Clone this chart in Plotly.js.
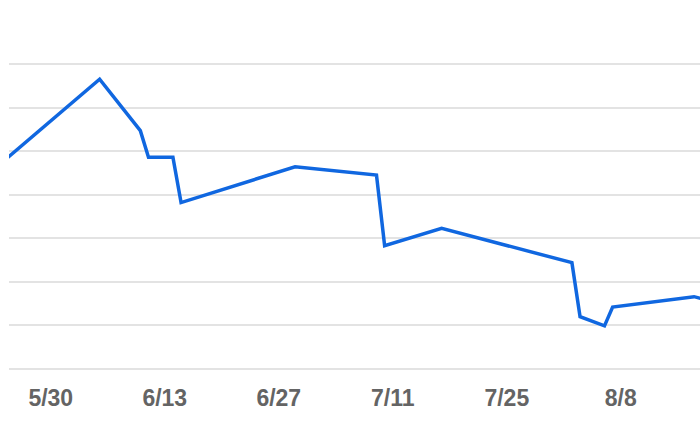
<!DOCTYPE html>
<html>
<head>
<meta charset="utf-8">
<script src="https://cdn.plot.ly/plotly-3.0.1.min.js"></script>
<style>html,body{margin:0;padding:0;background:#fff;}#chart{width:700px;height:430px;}</style>
</head>
<body>
<div id="chart"></div>
<script>
const dates = ['2024-05-24','2024-06-05','2024-06-10','2024-06-11','2024-06-14','2024-06-15','2024-06-29','2024-07-09','2024-07-10','2024-07-17','2024-08-02','2024-08-03','2024-08-06','2024-08-07','2024-08-17','2024-08-18'];
const values = [47.4, 66.5, 54.7, 48.6, 48.6, 38.2, 46.4, 44.5, 28.3, 32.3, 24.4, 12.0, 9.9, 14.2, 16.6, 16.1];
const tickDates = ['2024-05-30','2024-06-13','2024-06-27','2024-07-11','2024-07-25','2024-08-08'];
const tickLabels = ['5/30','6/13','6/27','7/11','7/25','8/8'];
const gridVals = [0,10,20,30,40,50,60,70];

Plotly.newPlot('chart', [{
  x: dates, y: values, type: 'scatter', mode: 'lines',
  line: {color: '#1067e0', width: 3.5}, hoverinfo: 'skip'
}], {
  width: 700, height: 430,
  margin: {l: 9, r: 0, t: 60, b: 57},
  paper_bgcolor: '#fff', plot_bgcolor: '#fff',
  showlegend: false,
  xaxis: {
    type: 'date', range: ['2024-05-24 20:53','2024-08-17 17:30'],
    tickmode: 'array', tickvals: tickDates, ticktext: tickLabels,
    showgrid: false, zeroline: false, showline: false, ticks: '',
    tickfont: {family: 'Liberation Sans, Arial, sans-serif', size: 23, color: '#646464', weight: 'bold'},
    ticklabelstandoff: 9
  },
  yaxis: {
    range: [-0.92, 70.92], tickmode: 'array', tickvals: gridVals,
    showticklabels: false, showgrid: true, gridcolor: '#e3e3e3', gridwidth: 2,
    zeroline: false, showline: false, ticks: ''
  }
}, {displayModeBar: false, staticPlot: true});
</script>
</body>
</html>
